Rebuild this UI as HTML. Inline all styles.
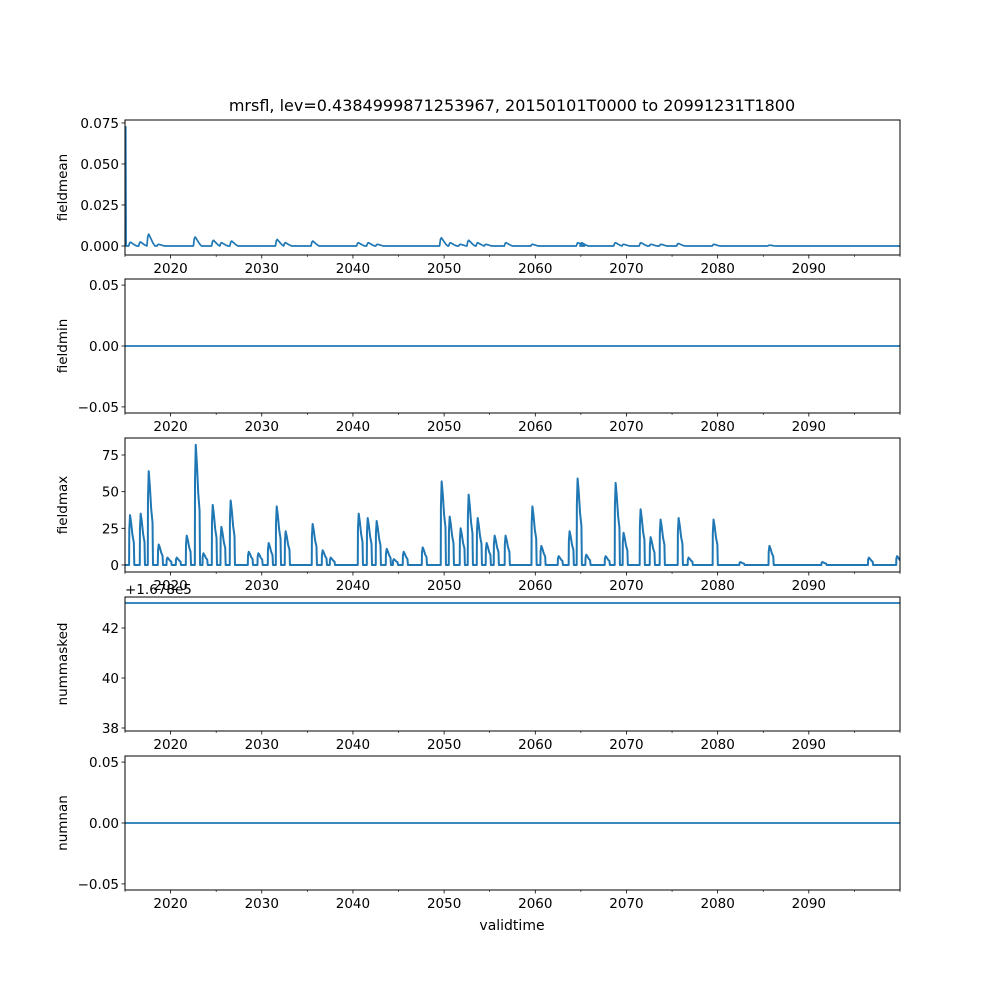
<!DOCTYPE html>
<html><head><meta charset="utf-8"><style>
body{margin:0;background:#fff}
svg{display:block;font-family:"DejaVu Sans","Liberation Sans",sans-serif}
</style></head><body>
<svg id="fig" width="1000" height="1000" viewBox="0 0 1000 1000">
<rect width="1000" height="1000" fill="#fff"/>
<text x="512" y="111" font-size="16" text-anchor="middle">mrsfl, lev=0.4384999871253967, 20150101T0000 to 20991231T1800</text>
<text x="512" y="930" font-size="14" text-anchor="middle">validtime</text>
</svg>
<script>
// ---- data ----
const xTickYears = [2020, 2030, 2040, 2050, 2060, 2070, 2080, 2090];
const xMinorYears = [2015, 2025, 2035, 2045, 2055, 2065, 2075, 2085, 2095, 2100];
const panelNames = ["fieldmean", "fieldmin", "fieldmax", "nummasked", "numnan"];
const meanTicks = [0.000, 0.025, 0.050, 0.075];
const meanTickLabels = ["0.000", "0.025", "0.050", "0.075"];
const zeroTicks = [-0.05, 0, 0.05];
const zeroTickLabels = ["\u22120.05", "0.00", "0.05"];
const maxTicks = [0, 25, 50, 75];
const maxTickLabels = ["0", "25", "50", "75"];
const maskTicks = [38, 40, 42];
const maskTickLabels = ["38", "40", "42"];
const maxEventYears = [2015.47,2016.64,2017.52,2018.62,2019.57,2020.59,2021.69,2022.68,2023.52,2024.54,2025.49,2026.51,2028.49,2029.55,2030.68,2031.56,2032.54,2035.5,2036.6,2037.48,2040.55,2041.54,2042.52,2043.62,2044.4,2045.48,2047.57,2049.65,2050.53,2051.73,2052.61,2053.6,2054.58,2055.46,2056.66,2059.6,2060.58,2062.48,2063.68,2064.56,2065.51,2067.63,2068.73,2069.6,2071.47,2072.57,2073.66,2075.64,2076.73,2079.47,2082.4,2085.6,2091.4,2096.5,2099.6];
const maxEventPeaks = [34,35,64,14,5,5,20,82,8,41,26,44,9,8,15,40,23,28,10,5,35,32,30,11,4,9,12,57,33,25,48,32,15,20,20,40,13,6,23,59,7,6,56,22,38,19,31,32,5,31,2,13,2,5,6];
const meanEventYears = [2015.5,2016.6,2017.5,2018.6,2022.6,2024.6,2025.5,2026.6,2031.6,2032.5,2035.5,2040.5,2041.6,2042.6,2049.6,2050.6,2051.7,2052.6,2053.6,2054.5,2056.7,2059.6,2064.6,2065.0,2068.7,2069.6,2071.5,2072.6,2073.7,2075.6,2079.5,2085.6];
const meanEventValues = [0.0023,0.0025,0.0072,0.001,0.0055,0.0035,0.002,0.003,0.004,0.002,0.003,0.002,0.002,0.001,0.005,0.002,0.001,0.0035,0.002,0.001,0.002,0.001,0.002,0.002,0.002,0.001,0.002,0.001,0.001,0.0015,0.001,0.0005];
const meanInitialValue = 0.073;
const minValue = 0;
const maskValue = 43;
const nanValue = 0;
// ---- layout ----
const NS = "http://www.w3.org/2000/svg";
const svg = document.getElementById("fig");
const L = 125, R = 900;
const panels = [
 {top:120,bot:255,ymin:-0.0055,ymax:0.0768,ticks:meanTicks,labels:meanTickLabels},
 {top:279,bot:413,ymin:-0.055,ymax:0.055,ticks:zeroTicks,labels:zeroTickLabels},
 {top:438,bot:572,ymin:-4.8,ymax:86.6,ticks:maxTicks,labels:maxTickLabels},
 {top:597,bot:731,ymin:37.88,ymax:43.24,ticks:maskTicks,labels:maskTickLabels},
 {top:756,bot:890,ymin:-0.055,ymax:0.055,ticks:zeroTicks,labels:zeroTickLabels}
];
function xs(y){return L + (y-2015)/85*(R-L);}
function mk(tag, attrs, parent){const e=document.createElementNS(NS,tag);for(const k in attrs)e.setAttribute(k,attrs[k]);(parent||svg).appendChild(e);return e;}
function series(i){
 const pts=[];
 if(i===0){
  pts.push([2015.08,meanInitialValue],[2015.12,0]);
  meanEventYears.forEach((t,j)=>{const v=meanEventValues[j];pts.push([t-0.1,0],[t,v*0.8],[t+0.1,v],[t+0.35,v*0.6],[t+0.6,v*0.2],[t+0.8,0]);});
  pts.push([2100,0]);
 } else if(i===2){
  pts.push([2015,0]);
  maxEventYears.forEach((t,j)=>{const v=maxEventPeaks[j];pts.push([t-0.02,0],[t,v*0.7],[t+0.08,v],[t+0.2,v*0.85],[t+0.35,v*0.6],[t+0.5,v*0.45],[t+0.55,0]);});
  pts.push([2100,0]);
 } else {
  const v=[0,minValue,0,maskValue,nanValue][i];
  pts.push([2015,v],[2100,v]);
 }
 return pts;
}
panels.forEach((p,i)=>{
 const g=mk("g",{});
 
 
 const ys=v=>p.bot-(v-p.ymin)/(p.ymax-p.ymin)*(p.bot-p.top);
 const cp=mk("clipPath",{id:"c"+i},g);
 mk("rect",{x:L,y:p.top,width:R-L,height:p.bot-p.top},cp);
 const d=series(i).map((q,k)=>(k?"L":"M")+xs(q[0]).toFixed(2)+","+ys(q[1]).toFixed(2)).join("");
 const path=mk("path",{d:d,fill:"none",stroke:"#1f77b4","stroke-width":(i===2?2:1.7),"stroke-linejoin":"round","clip-path":"url(#c"+i+")"},g);
 
 
 const fr=mk("rect",{x:L,y:p.top,width:R-L,height:p.bot-p.top,fill:"none",stroke:"#000","stroke-width":1},g);
 
 
 p.ticks.forEach((t,k)=>{
  const y=ys(t);
  mk("line",{x1:L-3.5,x2:L,y1:y,y2:y,stroke:"#000","stroke-width":0.8},g);
  const tx=mk("text",{x:L-6,y:y+5,"font-size":13.5,"text-anchor":"end"},g);
  tx.textContent=p.labels[k];
  
  
 });
 xTickYears.forEach(t=>{
  const x=xs(t);
  mk("line",{x1:x,x2:x,y1:p.bot,y2:p.bot+3.5,stroke:"#000","stroke-width":0.8},g);
  const tx=mk("text",{x:x,y:p.bot+18,"font-size":13.5,"text-anchor":"middle"},g);
  tx.textContent=t;
  
  
 });
 xMinorYears.forEach(t=>{const x=xs(t);mk("line",{x1:x,x2:x,y1:p.bot,y2:p.bot+2,stroke:"#000","stroke-width":0.6},g);});
 const yl=mk("text",{x:0,y:0,"font-size":13.5,"text-anchor":"middle",transform:"translate(67,"+((p.top+p.bot)/2)+") rotate(-90)"},g);
 yl.textContent=panelNames[i];
 
 
});
const off=mk("text",{x:125,y:594,"font-size":13.5});
off.textContent="+1.678e5";


</script>
</body></html>
